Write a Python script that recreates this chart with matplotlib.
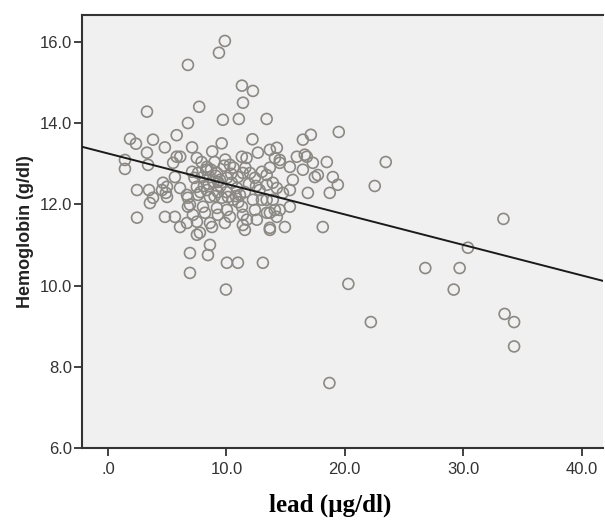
import matplotlib
matplotlib.use("Agg")
import matplotlib.pyplot as plt
import numpy as np

# lead (µg/dl) vs hemoglobin (g/dl)
lead = [
    9.87, 9.37, 6.75, 11.31, 12.24, 11.4, 3.29, 7.7, 6.75, 9.7, 11.05, 13.4,
    5.8, 4.8, 7.1, 9.6, 12.2, 5.8, 6.1, 7.5, 8.8, 7.9, 8.35, 9.0, 9.9, 10.3,
    11.3, 11.7, 12.66, 13.67, 14.1, 5.5, 5.65, 7.1, 7.6, 8.0, 8.6, 9.2, 9.45,
    10.04, 10.46, 10.97, 11.39, 12.0, 12.4, 13.0, 13.4, 13.92, 4.64, 4.56,
    4.98, 6.08, 6.67, 7.5, 7.6, 8.35, 8.6, 9.28, 9.62, 10.13, 10.55, 11.14,
    11.56, 12.24, 13.0, 13.4, 13.92, 6.92, 8.02, 8.19, 9.2, 9.28, 10.04, 10.3,
    11.31, 11.39, 12.41, 13.42, 14.09, 5.65, 4.81, 7.51, 8.61, 8.78, 9.87,
    11.39, 11.73, 11.56, 12.57, 6.08, 7.76, 13.67, 8.61, 6.92, 8.44,
    15.95, 16.79, 18.48, 15.36, 17.47, 17.72, 18.99, 16.46, 19.41, 18.73,
    16.88, 15.36, 14.77, 15.61, 15.36, 14.94, 18.14, 16.46, 17.13, 19.49,
    14.26, 14.51, 10.04, 10.97, 13.08, 6.92, 17.3, 14.51, 13.67, 14.26, 13.42,
    14.51, 13.67, 14.26, 13.67, 16.62, 22.53, 23.46,
    1.86, 2.36, 3.8, 3.29, 1.43, 1.43, 3.38, 2.45, 3.46, 4.98, 4.89, 3.8,
    3.54, 2.45, 6.75, 6.75, 7.17, 6.67, 7.51, 9.96,
    20.3, 33.4, 30.4, 26.8, 29.7, 29.2, 33.5, 34.3, 34.3, 18.7, 22.2,
    8.9, 9.5, 10.6, 10.0, 8.3, 11.9, 9.1, 10.8, 7.3, 12.8,
    8.1, 8.7, 9.3, 9.8, 10.4, 10.9, 11.6, 12.5, 7.8, 9.0, 11.0, 8.5,
]
hemoglobin = [
    16.02, 15.73, 15.43, 14.92, 14.79, 14.5, 14.28, 14.4, 14.0, 14.08, 14.1,
    14.1, 13.7, 13.4, 13.4, 13.5, 13.6, 13.17, 13.17, 13.14, 13.3, 13.04,
    12.92, 13.04, 13.1, 12.97, 13.17, 13.14, 13.27, 13.34, 13.14, 13.02,
    12.67, 12.8, 12.77, 12.67, 12.67, 12.77, 12.6, 12.65, 12.53, 12.67, 12.77,
    12.77, 12.65, 12.8, 12.72, 12.53, 12.53, 12.35, 12.18, 12.4, 12.23, 12.43,
    12.23, 12.35, 12.18, 12.3, 12.16, 12.18, 12.11, 12.23, 12.3, 12.11, 12.11,
    12.11, 12.11, 11.99, 11.94, 11.79, 11.91, 11.74, 11.86, 11.69, 11.94,
    11.74, 11.86, 11.79, 11.86, 11.69, 11.69, 11.57, 11.54, 11.44, 11.54,
    11.49, 11.62, 11.37, 11.62, 11.44, 11.3, 11.42, 11.0, 10.8, 10.75,
    13.17, 13.17, 13.04, 12.92, 12.67, 12.72, 12.67, 12.85, 12.48, 12.28,
    12.28, 12.35, 12.28, 12.6, 11.94, 11.44, 11.44, 13.59, 13.71, 13.78,
    13.39, 13.09, 10.56, 10.56, 10.56, 10.31, 13.02, 13.02, 12.9, 12.4, 12.48,
    11.86, 11.79, 11.69, 11.37, 13.22, 12.45, 13.04,
    13.61, 13.49, 13.59, 13.27, 13.09, 12.87, 12.97, 12.35, 12.35, 12.43,
    12.28, 12.16, 12.03, 11.67, 12.16, 11.94, 11.74, 11.54, 11.25, 9.9,
    10.04, 11.64, 10.93, 10.43, 10.43, 9.9, 9.3, 9.1, 8.5, 7.6, 9.1,
    12.55, 12.45, 12.9, 12.3, 12.85, 12.5, 12.7, 12.2, 12.65, 12.35,
    12.45, 12.85, 12.55, 12.95, 12.75, 12.4, 12.9, 12.45, 12.3, 12.2, 12.05, 12.5,
]

# fit line as drawn in the original
fit_intercept = 13.25
fit_slope = -0.075

x_ticks = [0, 10, 20, 30, 40]
x_labels = [".0", "10.0", "20.0", "30.0", "40.0"]
y_ticks = [6, 8, 10, 12, 14, 16]
y_labels = ["6.0", "8.0", "10.0", "12.0", "14.0", "16.0"]

fig = plt.figure(figsize=(6.05, 5.23), dpi=100)
ax = fig.add_axes([0.1355, 0.1434, 0.861, 0.828])
ax.set_facecolor("#f0f0f0")

ax.scatter(lead, hemoglobin, s=62, facecolors="none", edgecolors="#8c8884",
           linewidths=1.2, zorder=2)

xlim = (-2.2, 41.8)
xs = np.array(xlim)
ax.plot(xs, fit_intercept + fit_slope * xs, color="#1a1a1a", lw=1.4, zorder=3)

ax.set_xlim(*xlim)
ax.set_ylim(6, 16.66)
ax.set_xticks(x_ticks)
ax.set_xticklabels(x_labels)
ax.set_yticks(y_ticks)
ax.set_yticklabels(y_labels)

for lab in ax.get_xticklabels() + ax.get_yticklabels():
    lab.set_fontfamily("Liberation Sans")
    lab.set_fontsize(12)
    lab.set_color("#333333")
ax.tick_params(axis="both", direction="out", length=6, width=1.3,
               color="#333333")
ax.tick_params(axis="x", pad=4)
ax.tick_params(axis="y", pad=1)

for side in ["left", "bottom", "top"]:
    ax.spines[side].set_color("#333333")
    ax.spines[side].set_linewidth(1.5)
ax.spines["right"].set_visible(False)

ax.set_ylabel("Hemoglobin (g/dl)", fontfamily="Liberation Sans",
              fontweight="bold", fontsize=13, color="#222222", labelpad=4)
fig.text(0.545, 0.033, "lead (\u00b5g/dl)", ha="center", va="center",
         fontfamily="Liberation Serif", fontweight="bold", fontsize=18)

fig.savefig("out.png", dpi=100, facecolor="white")
